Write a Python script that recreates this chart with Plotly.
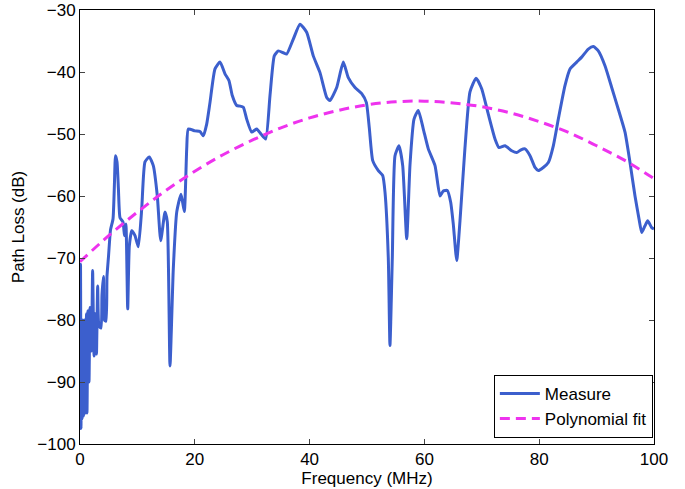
import plotly.graph_objects as go

# Measured path loss (Frequency MHz, dB)
freq_measure = [0.0, 0.09, 0.17, 0.26, 0.35, 0.47, 0.61, 0.78, 0.96, 1.13, 1.22, 1.39, 1.57, 1.74, 2.0, 2.2,
                2.44, 2.7, 2.87, 3.08, 3.31, 3.66, 3.83, 4.09, 4.27, 4.53, 4.7, 4.97, 5.31, 5.75, 6.0,
                6.18, 6.45, 6.7, 6.97, 7.49, 7.75, 8.0, 8.31, 8.59, 9.01, 9.58, 10.16, 10.75, 11.32,
                12.07, 12.77, 13.47, 14.06, 14.81, 15.21, 15.68, 16.25, 16.85, 17.6, 18.17, 18.59,
                18.87, 20.03, 20.9, 21.48, 22.07, 22.65, 23.52, 24.39, 25.26, 25.96, 26.53, 27.3,
                27.87, 28.45, 29.04, 29.91, 30.78, 31.53, 32.35, 33.1, 33.85, 34.55, 35.42, 36.01,
                37.16, 38.33, 39.49, 40.64, 41.81, 42.98, 43.55, 44.72, 45.87, 46.74, 47.91, 49.08,
                49.88, 50.4, 51.0, 51.97, 52.74, 53.14, 53.71, 54.0, 54.41, 54.88, 55.57, 56.22,
                56.92, 57.49, 58.19, 58.94, 59.81, 60.68, 61.85, 62.72, 63.29, 63.99, 64.58, 65.03,
                65.63, 66.2, 67.07, 67.94, 69.0, 69.98, 71.13, 72.3, 73.0, 74.04, 75.21, 76.08,
                76.74, 77.53, 78.4, 79.27, 79.84, 80.71, 81.59, 82.46, 83.33, 84.49, 85.37, 86.53,
                87.4, 88.55, 89.43, 90.3, 91.46, 92.63, 93.78, 94.95, 95.82, 96.69, 97.39, 97.86,
                98.43, 98.9, 99.6, 100.0]
loss_measure = [-83.0, -71.0, -97.5, -83.0, -96.0, -80.0, -95.5, -80.0, -95.0, -79.0, -95.0, -78.5, -90.0,
                -78.0, -85.0, -72.0, -85.8, -79.0, -85.5, -74.5, -81.0, -81.3, -76.0, -73.0, -80.0,
                -80.2, -73.0, -69.7, -65.5, -63.7, -58.0, -53.5, -54.5, -59.0, -63.5, -64.2, -66.4,
                -64.5, -78.2, -68.1, -65.6, -66.4, -68.2, -62.1, -54.5, -53.7, -55.1, -60.0, -67.2,
                -62.6, -64.2, -87.4, -71.8, -62.6, -59.7, -62.5, -52.4, -49.2, -49.5, -49.6, -50.3,
                -48.4, -44.9, -39.5, -38.4, -40.3, -41.4, -43.8, -45.4, -45.5, -45.7, -47.6, -49.7,
                -49.2, -50.0, -50.8, -43.8, -37.4, -36.6, -36.9, -37.1, -34.7, -32.3, -33.6, -37.4,
                -40.1, -44.1, -44.6, -42.5, -38.4, -40.9, -42.5, -43.5, -44.9, -49.0, -54.3, -55.9,
                -56.7, -59.4, -70.0, -84.1, -70.0, -53.5, -51.9, -55.1, -66.9, -55.0, -47.6, -46.2,
                -49.2, -52.4, -55.1, -60.0, -59.2, -59.1, -61.0, -64.5, -70.4, -64.0, -52.2, -43.2,
                -41.0, -42.7, -46.8, -50.8, -52.2, -51.9, -52.7, -53.0, -52.6, -52.4, -53.5, -55.4,
                -55.9, -55.4, -54.6, -51.9, -47.6, -42.2, -39.5, -38.4, -37.6, -36.3, -35.9, -36.6,
                -39.0, -42.5, -46.0, -49.7, -54.6, -60.0, -63.7, -65.9, -64.8, -64.0, -65.1, -65.3]

# Polynomial fit
freq_fit = [0, 5, 10, 15, 20, 25, 30, 35, 40, 45, 50, 55, 60, 65, 70, 75, 80, 85, 90, 95, 100]
loss_fit = [-70.6, -66.4, -62.6, -59.1, -56.0, -53.3, -51.0, -49.0, -47.4, -46.2, -45.3, -44.8, -44.7,
            -45.0, -45.6, -46.6, -48.0, -49.7, -51.9, -54.3, -57.2]

x_ticks = [0, 20, 40, 60, 80, 100]
y_ticks = [-100, -90, -80, -70, -60, -50, -40, -30]

FONT = "Liberation Sans, Arial, Helvetica, sans-serif"

fig = go.Figure()
fig.add_trace(go.Scatter(x=freq_measure, y=loss_measure, mode="lines", name="Measure",
                         line=dict(color="#3C5FCD", width=3, shape="spline", smoothing=0.5)))
fig.add_trace(go.Scatter(x=freq_fit, y=loss_fit, mode="lines", name="Polynomial fit",
                         line=dict(color="#EE33EE", width=3, dash="10px,6px", shape="spline")))

axis_common = dict(showline=True, linecolor="black", linewidth=1, mirror="ticks",
                   ticks="inside", ticklen=5, tickcolor="#444", showgrid=False, zeroline=False,
                   automargin=False,
                   tickfont=dict(family=FONT, size=17, color="black"))

fig.update_layout(
    width=685, height=489,
    margin=dict(l=80, r=31, t=10, b=45),
    paper_bgcolor="white", plot_bgcolor="white",
    font=dict(family=FONT, size=17, color="black"),
    xaxis=dict(range=[0, 100], tickvals=x_ticks,
               title=dict(text="Frequency (MHz)", font=dict(size=17), standoff=2), **axis_common),
    yaxis=dict(range=[-100, -30], tickvals=y_ticks,
               title=dict(text="Path Loss (dB)", font=dict(size=17), standoff=8), **axis_common),
    legend=dict(x=0.998, y=0.014, xanchor="right", yanchor="bottom",
                bordercolor="black", borderwidth=1, bgcolor="white",
                font=dict(family=FONT, size=17), tracegroupgap=0, itemwidth=40),
    showlegend=True,
)

fig.write_html("out.html")
